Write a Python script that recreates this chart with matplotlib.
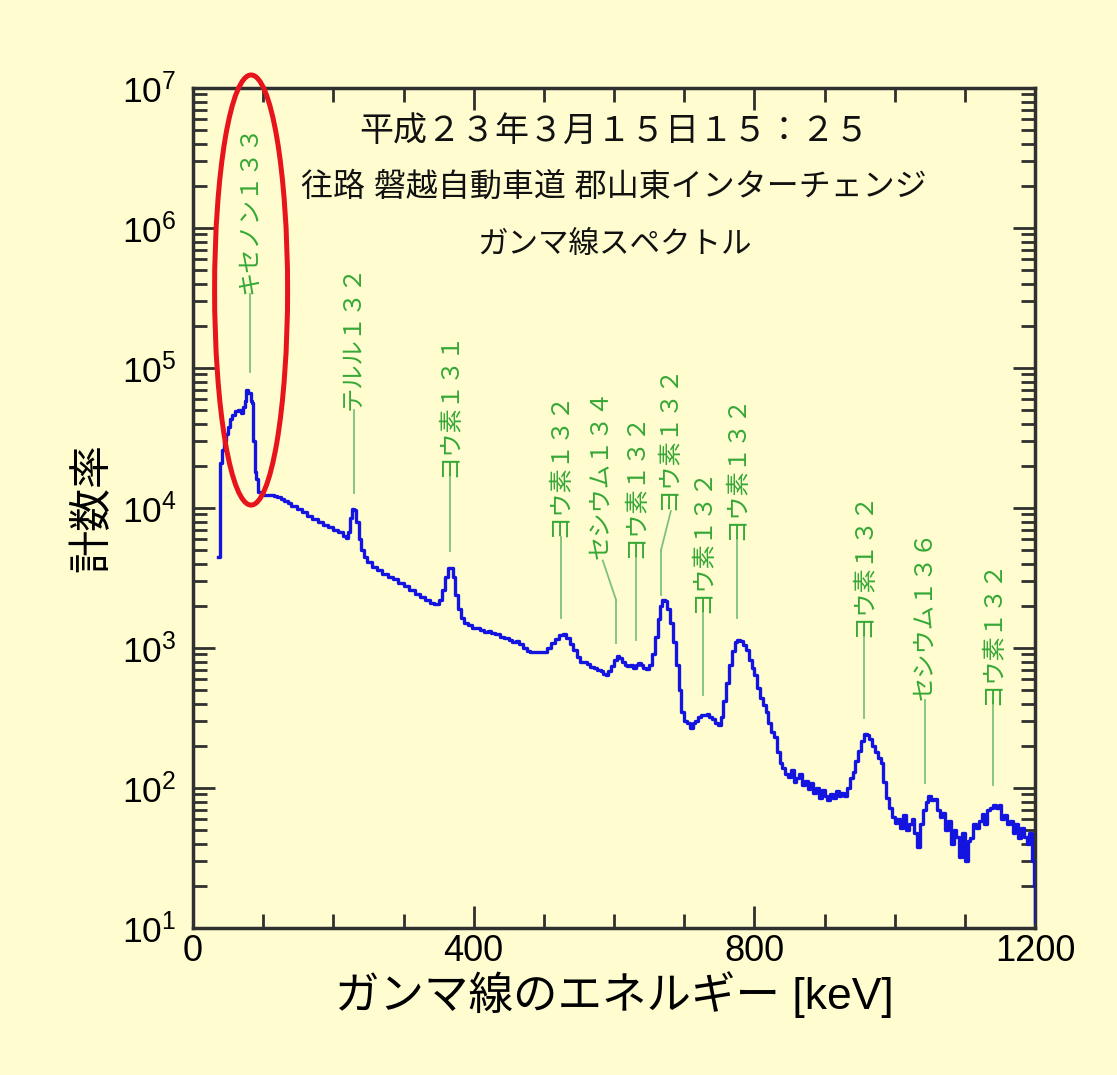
import math
import matplotlib
matplotlib.use("Agg")
import matplotlib.pyplot as plt
from matplotlib.patches import Ellipse
from matplotlib.ticker import FixedLocator, NullFormatter, FuncFormatter

# ---- spectrum (energy in keV, count rate) ----
energy_kev = [
    36, 38, 41, 44, 47, 50, 53, 56, 60, 64, 68, 71, 74, 76, 79, 82, 84, 86, 88, 90,
    93, 97, 100, 105, 110, 115, 120, 125, 130, 135, 140, 148, 155, 162, 170, 178, 185, 192, 200, 207,
    214, 218, 221, 224, 227, 230, 233, 236, 239, 243, 248, 255, 262, 270, 278, 285, 292, 300, 308, 316,
    324, 331, 338, 344, 350, 355, 359, 363, 367, 370, 374, 378, 382, 386, 392, 398, 404, 409, 415, 420,
    425, 430, 437, 443, 450, 455, 460, 465, 470, 476, 480, 486, 492, 499, 505, 510, 516, 522, 527, 532,
    537, 542, 547, 551, 556, 561, 566, 571, 576, 581, 584, 588, 592, 596, 600, 604, 607, 611, 615, 619,
    623, 627, 631, 634, 638, 642, 646, 650, 654, 658, 662, 666, 669, 672, 676, 680, 684, 688, 692, 696,
    700, 704, 708, 712, 716, 720, 724, 728, 732, 736, 740, 744, 748, 752, 756, 760, 764, 768, 772, 776,
    780, 784, 788, 792, 796, 800, 804, 808, 812, 816, 820, 824, 828, 832, 836, 840, 844, 848, 852, 856,
    860, 864, 868, 872, 876, 880, 884, 888, 892, 896, 900, 904, 908, 912, 916, 920, 924, 928, 932, 936,
    940, 944, 948, 952, 956, 960, 964, 968, 972, 976, 980, 984, 988, 992, 996, 1000, 1004, 1008, 1012, 1016,
    1020, 1024, 1028, 1032, 1036, 1040, 1044, 1048, 1052, 1056, 1060, 1064, 1068, 1072, 1076, 1080, 1084, 1088, 1092, 1096,
    1100, 1104, 1108, 1112, 1116, 1120, 1124, 1128, 1132, 1136, 1140, 1144, 1148, 1152, 1156, 1160, 1164, 1168, 1172, 1176,
    1180, 1184, 1188, 1192, 1196, 1198, 1200,
]
count_rate = [
    4500, 21000, 26000, 30000, 34000, 38000, 43000, 46000, 49000, 50000, 48000, 53000, 58000, 70000, 66000, 58000, 56000, 30000, 18000, 16000,
    13000, 12500, 12400, 12300, 12300, 12200, 12000, 11600, 11200, 10800, 10300, 9800, 9300, 8800, 8300, 7900, 7600, 7300, 7000, 6700,
    6300, 6100, 6700, 8500, 9800, 9600, 8000, 6000, 5000, 4500, 4100, 3800, 3600, 3400, 3200, 3100, 2900, 2750, 2600, 2450,
    2300, 2200, 2100, 2050, 2200, 2600, 3200, 3700, 3700, 3200, 2400, 1900, 1650, 1500, 1450, 1400, 1380, 1350, 1300, 1320,
    1280, 1250, 1200, 1180, 1150, 1100, 1120, 1070, 1000, 950, 930, 940, 930, 940, 1000, 1080, 1160, 1230, 1250, 1180,
    1070, 960, 860, 800, 790, 770, 730, 720, 700, 680, 650, 640, 680, 740, 820, 870, 850, 790, 760, 740,
    750, 720, 760, 780, 760, 720, 710, 760, 900, 1200, 1600, 2000, 2200, 2150, 1900, 1500, 1100, 750, 500, 350,
    300, 290, 270, 290, 300, 320, 330, 330, 340, 320, 310, 290, 280, 320, 420, 560, 750, 950, 1100, 1150,
    1130, 1050, 960, 820, 720, 640, 520, 440, 390, 350, 290, 250, 230, 180, 150, 140, 125, 120, 135, 110,
    118, 125, 105, 112, 98, 108, 92, 100, 85, 96, 88, 82, 90, 85, 95, 88, 92, 88, 100, 118,
    130, 155, 185, 215, 245, 240, 225, 200, 180, 165, 150, 110, 85, 72, 62, 56, 60, 52, 64, 50,
    55, 60, 48, 38, 55, 70, 80, 88, 82, 84, 70, 62, 66, 50, 58, 40, 50, 45, 32, 48,
    30, 42, 44, 55, 52, 58, 65, 55, 70, 72, 76, 72, 75, 60, 64, 55, 58, 48, 55, 44,
    52, 45, 40, 48, 30, 20, 11,
]

# ---- nuclide labels: leader line position (keV), leader top / bottom (count rate) ----
label_text = [
    "キセノン１３３", "テルル１３２", "ヨウ素１３１", "ヨウ素１３２", "セシウム１３４", "ヨウ素１３２",
    "ヨウ素１３２", "ヨウ素１３２", "ヨウ素１３２", "ヨウ素１３２", "セシウム１３６", "ヨウ素１３２",
]
label_line_kev = [81, 229, 366, 524, 603, 631, 667, 727, 775, 956, 1043, 1140]
label_line_top = [3.4e5, 5.0e4, 1.66e4, 6.2e3, 2.2e3, 4.4e3, 5.0e3, 1.78e3, 5.9e3, 1.2e3, 425, 392]
label_line_bottom = [9.4e4, 1.28e4, 4.9e3, 1.64e3, 1.09e3, 1.14e3, 2.39e3, 461, 1.64e3, 316, 109, 105]
# text anchor (keV, count rate); differs from the leader top where the leader bends
label_text_kev = [81, 229, 366, 524, 582, 631, 679, 727, 775, 956, 1043, 1140]
label_text_base = [3.4e5, 5.0e4, 1.66e4, 6.2e3, 4.3e3, 4.4e3, 9.7e3, 1.78e3, 5.9e3, 1.2e3, 425, 392]

title_lines = [
    "平成２３年３月１５日１５：２５",
    "往路 磐越自動車道 郡山東インターチェンジ",
    "ガンマ線スペクトル",
]
title_sizes = [24.5, 23, 22]
title_y = [0.948, 0.882, 0.813]
x_ticks = [0, 400, 800, 1200]
y_decades = [1, 2, 3, 4, 5, 6, 7]

BG = "#FFFDD0"
AX_COLOR = "#303030"
LABEL_GREEN = "#36A836"
LEADER_GREEN = "#7CC27C"

plt.rcParams["font.family"] = ["Liberation Sans", "Noto Sans CJK JP"]

W, H = 1117, 1075
fig = plt.figure(figsize=(W / 100, H / 100), dpi=100, facecolor=BG)
ax = fig.add_axes([193 / W, 1 - 928 / H, 842 / W, 840 / H], facecolor=BG)

ax.plot(energy_kev, count_rate, drawstyle="steps-post", color="#1414E0", lw=2.4, zorder=3)

ax.set_yscale("log")
ax.set_xlim(0, 1200)
ax.set_ylim(10, 1e7)

# ticks
ax.xaxis.set_major_locator(FixedLocator(x_ticks))
ax.xaxis.set_minor_locator(FixedLocator([v for v in range(0, 1201, 100) if v not in x_ticks]))
ax.xaxis.set_minor_formatter(NullFormatter())
ax.yaxis.set_major_locator(FixedLocator([10.0 ** d for d in y_decades]))
ax.yaxis.set_minor_locator(FixedLocator([m * 10.0 ** d for d in y_decades[:-1] for m in range(2, 10)]))
ax.yaxis.set_minor_formatter(NullFormatter())
ax.yaxis.set_major_formatter(FuncFormatter(lambda v, p: r"$\mathregular{10^{%d}}$" % round(math.log10(v))))
ax.tick_params(which="both", direction="in", top=True, right=True, color=AX_COLOR, width=2)
ax.tick_params(which="major", length=16)
ax.tick_params(which="minor", length=10)
ax.tick_params(axis="y", which="major", labelsize=25.5, pad=12)
ax.tick_params(axis="x", which="major", labelsize=26, pad=4)
for s in ax.spines.values():
    s.set_color(AX_COLOR)
    s.set_linewidth(2.5)

ax.set_xlabel("ガンマ線のエネルギー [keV]", fontsize=32, labelpad=2)
ax.set_ylabel("計数率", fontsize=31, labelpad=6)

# title block
for txt, yf, fs in zip(title_lines, title_y, title_sizes):
    ax.text(0.5, yf, txt, transform=ax.transAxes, ha="center", va="center",
            fontsize=fs, color="#111111")

# nuclide labels with leader lines
for txt, lx, ltop, lbot, tx, tb in zip(label_text, label_line_kev, label_line_top,
                                        label_line_bottom, label_text_kev, label_text_base):
    ax.plot([lx, lx], [lbot, ltop], color=LEADER_GREEN, lw=1.3, zorder=2)
    if tx != lx:
        ax.plot([tx + 2, lx], [tb * 0.98, ltop], color=LEADER_GREEN, lw=1.3, zorder=2)
    ax.text(tx, tb, txt, rotation=90, ha="center", va="bottom", fontsize=17.5,
            color=LABEL_GREEN, zorder=4)

# red highlight ring around the xenon peak
ring = Ellipse((0.069, 0.7595), 0.0867, 0.512, transform=ax.transAxes, fill=False,
               edgecolor="#E8141B", lw=3.6, clip_on=False, zorder=5)
ax.add_patch(ring)

fig.savefig("out.png", dpi=100, facecolor=BG)
